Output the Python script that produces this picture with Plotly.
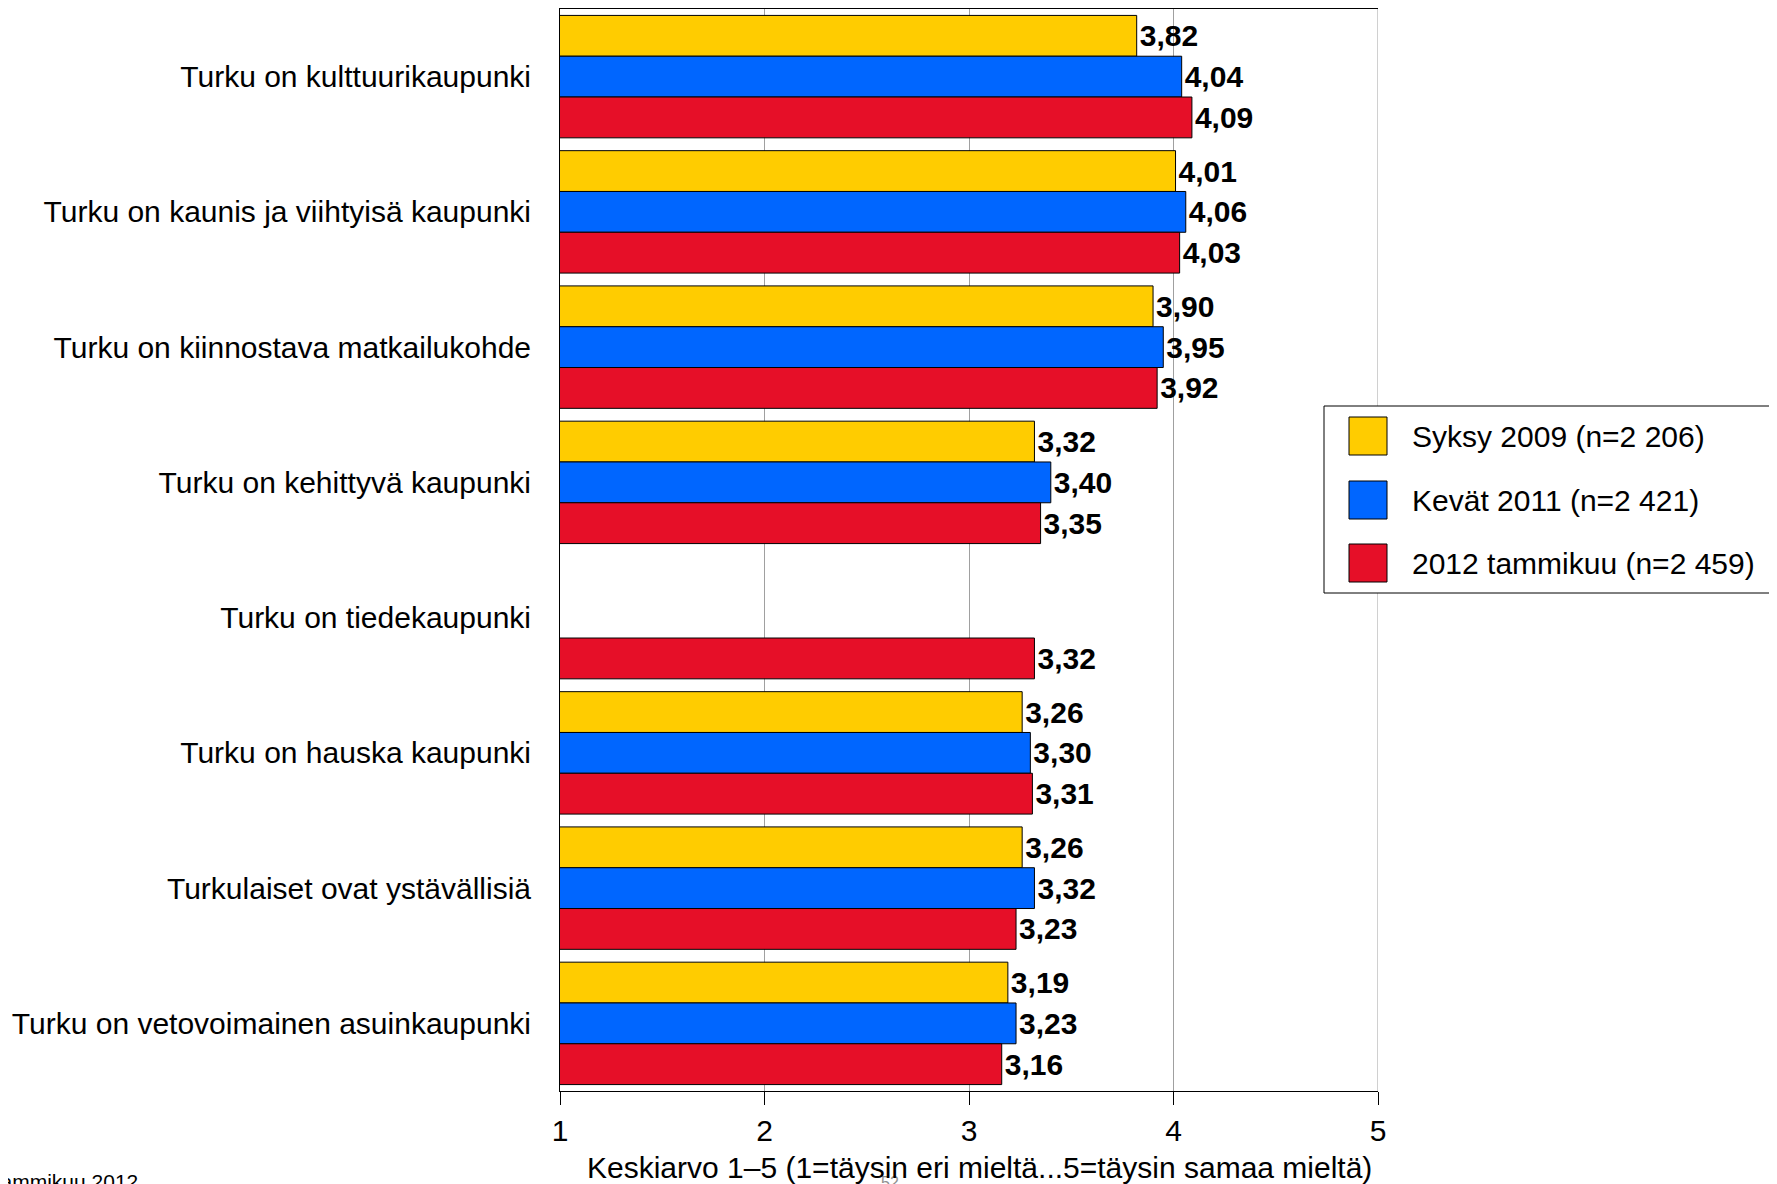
import plotly.graph_objects as go

categories = [
    "Turku on kulttuurikaupunki",
    "Turku on kaunis ja viihtyisä kaupunki",
    "Turku on kiinnostava matkailukohde",
    "Turku on kehittyvä kaupunki",
    "Turku on tiedekaupunki",
    "Turku on hauska kaupunki",
    "Turkulaiset ovat ystävällisiä",
    "Turku on vetovoimainen asuinkaupunki",
]
series_names = ["Syksy 2009 (n=2 206)", "Kevät 2011 (n=2 421)", "2012 tammikuu (n=2 459)"]
syksy_2009 = [3.82, 4.01, 3.90, 3.32, None, 3.26, 3.26, 3.19]
kevat_2011 = [4.04, 4.06, 3.95, 3.40, None, 3.30, 3.32, 3.23]
tammikuu_2012 = [4.09, 4.03, 3.92, 3.35, 3.32, 3.31, 3.23, 3.16]
x_ticks = [1, 2, 3, 4, 5]

colors = ["#FFCC00", "#0066FF", "#E60F28"]
FONT = "Liberation Sans, Arial, sans-serif"

W, H = 1777, 1184
OFF = 8  # page body margin
L, R, T, B = 560 - OFF, 1378 - OFF, 9 - OFF, 1091 - OFF


def px_x(p):
    return (p - OFF - L) / (R - L)


def px_y(p):
    return 1 - (p - OFF - T) / (B - T)


def fmt(v):
    return "" if v is None else f"{v:.2f}".replace(".", ",")


fig = go.Figure()
for name, vals, col in zip(series_names, [syksy_2009, kevat_2011, tammikuu_2012], colors):
    fig.add_trace(
        go.Bar(
            y=categories,
            x=vals,
            name=name,
            orientation="h",
            marker=dict(color=col, line=dict(color="black", width=1)),
            text=[fmt(v) for v in vals],
            textposition="outside",
            constraintext="none",
            cliponaxis=False,
            textfont=dict(family=FONT, size=30, color="black", weight="bold"),
            showlegend=False,
        )
    )

shapes = [
    # right frame line at 5
    dict(type="line", xref="x", yref="paper", x0=5, x1=5, y0=0, y1=1,
         line=dict(color="#A0A0A0", width=1), layer="above"),
    # legend box
    dict(type="rect", xref="paper", yref="paper",
         x0=px_x(1324), x1=px_x(1771), y0=px_y(593), y1=px_y(406),
         fillcolor="white", line=dict(color="black", width=1), layer="above"),
]
annotations = []
for i, (name, col) in enumerate(zip(series_names, colors)):
    cy = [436, 500, 563][i]
    shapes.append(
        dict(type="rect", xref="paper", yref="paper",
             x0=px_x(1349), x1=px_x(1387), y0=px_y(cy + 19), y1=px_y(cy - 19),
             fillcolor=col, line=dict(color="black", width=1), layer="above")
    )
    annotations.append(
        dict(xref="paper", yref="paper", x=px_x(1410), y=px_y(cy), text=name,
             showarrow=False, xanchor="left", yanchor="middle",
             font=dict(family=FONT, size=30, color="black"))
    )

# page number partly hidden behind the axis title, as in the source slide
annotations.insert(0, dict(xref="paper", yref="paper", x=px_x(890), y=px_y(1172), text="52",
                           showarrow=False, xanchor="center", yanchor="top",
                           font=dict(family=FONT, size=16, color="#909090")))
# axis title (slightly right of plot centre in the original)
annotations.append(dict(xref="paper", yref="paper", x=px_x(979), y=px_y(1167),
                        text="Keskiarvo 1–5 (1=täysin eri mieltä...5=täysin samaa mieltä)",
                        showarrow=False, xanchor="center", yanchor="middle",
                        font=dict(family=FONT, size=30, color="black")))
# footer, cut off at the page edge
annotations.append(dict(xref="paper", yref="paper", x=px_x(140), y=px_y(1168),
                        text="Tammikuu 2012", showarrow=False, xanchor="right", yanchor="top",
                        font=dict(family=FONT, size=21, color="black")))

fig.update_layout(
    width=W,
    height=H,
    margin=dict(l=L, r=W - R, t=T, b=H - B, pad=0),
    paper_bgcolor="white",
    plot_bgcolor="white",
    barmode="group",
    bargap=0.095,
    bargroupgap=0,
    font=dict(family=FONT, color="black"),
    shapes=shapes,
    annotations=annotations,
    xaxis=dict(
        range=[1, 5],
        tickvals=x_ticks,
        ticktext=[str(t) for t in x_ticks],
        showgrid=True,
        gridcolor="#A0A0A0",
        gridwidth=1,
        zeroline=False,
        showline=True,
        linecolor="black",
        linewidth=1,
        mirror=True,
        ticks="outside",
        ticklen=13,
        tickcolor="black",
        tickfont=dict(family=FONT, size=30),
    ),
    yaxis=dict(
        autorange="reversed",
        showline=True,
        linecolor="black",
        linewidth=1,
        showgrid=False,
        ticks="",
        ticklabelstandoff=22,
        tickfont=dict(family=FONT, size=30),
    ),
)

fig.write_html("out.html")
